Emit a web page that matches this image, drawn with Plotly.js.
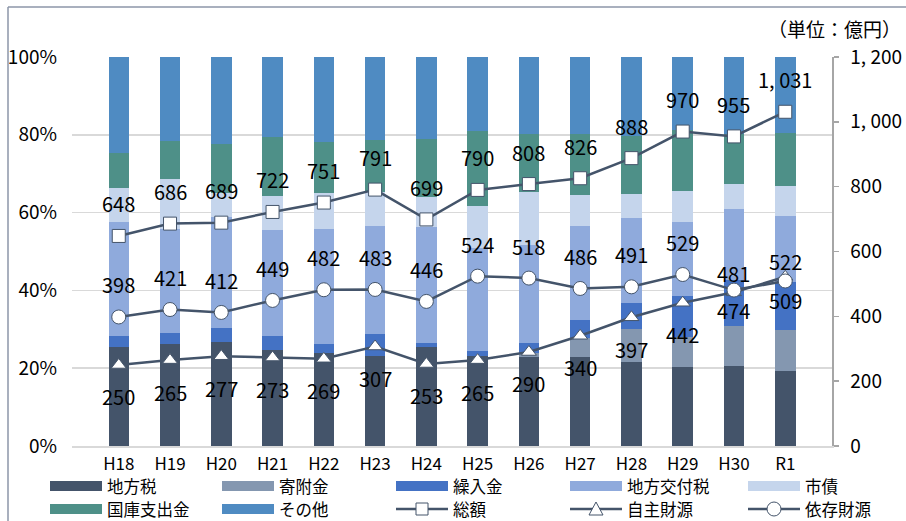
<!DOCTYPE html>
<html>
<head>
<meta charset="utf-8">
<script src="https://cdn.plot.ly/plotly-3.0.1.min.js"></script>
<style>
  html, body { margin: 0; padding: 0; background: #ffffff; }
  #chart { width: 906px; height: 521px; }
</style>
</head>
<body>
<div id="chart"></div>
<script>
// ---- data ----
const categories = ['H18','H19','H20','H21','H22','H23','H24','H25','H26','H27','H28','H29','H30','R1'];

// shares of revenue (%) per year
const chihouzei   = [25.5, 26.1, 26.8, 24.7, 23.8, 23.1, 25.4, 23.1, 23.0, 22.8, 21.7, 20.4, 20.6, 19.4];
const kifukin     = [0, 0, 0, 0, 0, 0, 0, 0, 1.0, 5.0, 8.4, 7.7, 10.2, 10.4];
const kuriirekin  = [2.9, 3.0, 3.6, 3.6, 2.5, 5.6, 1.0, 1.2, 2.6, 4.6, 6.7, 10.5, 11.9, 12.4];
const koufuzei    = [29.1, 26.7, 28.5, 27.2, 29.4, 27.9, 29.8, 26.5, 25.1, 24.2, 21.9, 19.1, 18.2, 17.0];
const shisai      = [8.7, 12.8, 6.1, 8.8, 9.3, 8.8, 7.9, 11.0, 13.7, 7.9, 6.0, 7.9, 6.4, 7.6];
const kokko       = [9.0, 9.9, 12.6, 15.1, 13.1, 13.3, 14.7, 19.2, 14.7, 15.6, 15.1, 15.6, 12.8, 13.6];
const sonota      = [24.8, 21.5, 22.4, 20.6, 21.9, 21.3, 21.2, 19.0, 19.9, 19.9, 20.2, 18.8, 19.9, 19.6];

// amounts (億円)
const sougaku     = [648, 686, 689, 722, 751, 791, 699, 790, 808, 826, 888, 970, 955, 1031];
const jishu       = [250, 265, 277, 273, 269, 307, 253, 265, 290, 340, 397, 442, 474, 522];
const izon        = [398, 421, 412, 449, 482, 483, 446, 524, 518, 486, 491, 529, 481, 509];

const rightTickVals = [0, 200, 400, 600, 800, 1000, 1200];
const rightTickText = ['0', '200', '400', '600', '800', '1, 000', '1, 200'];
const leftTickVals  = [0, 20, 40, 60, 80, 100];
const leftTickText  = ['0%', '20%', '40%', '60%', '80%', '100%'];

// ---- style ----
const FONT = '"Noto Sans CJK JP", sans-serif';
const LINE = '#44546A';
const barSeries = [
  {name: '地方税',     y: chihouzei,  color: '#44546A'},
  {name: '寄附金',     y: kifukin,    color: '#8497B0'},
  {name: '繰入金',     y: kuriirekin, color: '#4472C4'},
  {name: '地方交付税', y: koufuzei,   color: '#8FAADC'},
  {name: '市債',       y: shisai,     color: '#C5D5EC'},
  {name: '国庫支出金', y: kokko,      color: '#4E9088'},
  {name: 'その他',     y: sonota,     color: '#4F8BC2'}
];
// label offsets (px) for each line series
const shiftSougaku = sougaku.map(() => 32);
const shiftJishu   = jishu.map(() => -32);
const shiftIzon    = izon.map(() => 32);
shiftJishu[12] = -18; shiftIzon[12] = 17;
shiftJishu[13] = 15;  shiftIzon[13] = -19;

const traces = [];
barSeries.forEach(s => {
  traces.push({
    type: 'bar', name: s.name, x: categories, y: s.y,
    marker: {color: s.color, line: {width: 0}},
    yaxis: 'y', hoverinfo: 'skip', showlegend: false
  });
});
function lineTrace(name, y, symbol, size) {
  return {
    type: 'scatter', mode: 'lines+markers', name: name, x: categories, y: y,
    yaxis: 'y2', line: {color: LINE, width: 2.5},
    marker: {symbol: symbol, size: size, color: '#ffffff', line: {color: LINE, width: 1}},
    showlegend: false, hoverinfo: 'skip'
  };
}
traces.push(lineTrace('総額', sougaku, 'square', 13));
traces.push(lineTrace('自主財源', jishu, 'triangle-up', 13));
traces.push(lineTrace('依存財源', izon, 'circle', 14));

function fmt(v) { return v.toLocaleString('en-US').replace(',', ', '); }

const annotations = [];
function addLabels(vals, shifts) {
  vals.forEach((v, i) => {
    annotations.push({
      x: categories[i], y: v, xref: 'x', yref: 'y2', text: fmt(v),
      showarrow: false, yshift: shifts[i], borderpad: 0,
      font: {family: FONT, size: 20, color: '#000'}
    });
  });
}
addLabels(sougaku, shiftSougaku);
addLabels(jishu, shiftJishu);
addLabels(izon, shiftIzon);

// pixel -> paper helpers (plot area: x 72..832, y 57..446)
const L = 72, R = 832, T = 57, B = 446;
const px = x => (x - L) / (R - L);
const py = y => (B - y) / (B - T);

annotations.push({
  x: px(902), y: py(29), xref: 'paper', yref: 'paper', xanchor: 'right', yanchor: 'middle',
  text: '（単位：億円）', showarrow: false, borderpad: 0,
  font: {family: FONT, size: 19, color: '#000'}
});

// custom legend
const shapes = [];
const cols = [50, 222, 396, 570, 748];
const rows = [486, 509];
const legendItems = [
  {name: '地方税', kind: 'bar', color: '#44546A'},
  {name: '寄附金', kind: 'bar', color: '#8497B0'},
  {name: '繰入金', kind: 'bar', color: '#4472C4'},
  {name: '地方交付税', kind: 'bar', color: '#8FAADC'},
  {name: '市債', kind: 'bar', color: '#C5D5EC'},
  {name: '国庫支出金', kind: 'bar', color: '#4E9088'},
  {name: 'その他', kind: 'bar', color: '#4F8BC2'},
  {name: '総額', kind: 'square'},
  {name: '自主財源', kind: 'triangle'},
  {name: '依存財源', kind: 'circle'}
];
legendItems.forEach((it, k) => {
  const x0 = cols[k % 5], yc = rows[Math.floor(k / 5)];
  const w = 52;
  if (it.kind === 'bar') {
    shapes.push({type: 'rect', xref: 'paper', yref: 'paper', x0: px(x0), x1: px(x0 + w),
      y0: py(yc - 5), y1: py(yc + 5), fillcolor: it.color, line: {width: 0}});
  } else {
    shapes.push({type: 'line', xref: 'paper', yref: 'paper', x0: px(x0), x1: px(x0 + w),
      y0: py(yc), y1: py(yc), line: {color: LINE, width: 2.5}});
    const cx = x0 + w / 2;
    if (it.kind === 'square') {
      shapes.push({type: 'rect', xref: 'paper', yref: 'paper', x0: px(cx - 6), x1: px(cx + 6),
        y0: py(yc - 6), y1: py(yc + 6), fillcolor: '#fff', line: {color: LINE, width: 1}});
    } else if (it.kind === 'circle') {
      shapes.push({type: 'circle', xref: 'paper', yref: 'paper', x0: px(cx - 7), x1: px(cx + 7),
        y0: py(yc - 7), y1: py(yc + 7), fillcolor: '#fff', line: {color: LINE, width: 1}});
    } else {
      const p = 'M' + px(cx) + ',' + py(yc - 7) + ' L' + px(cx + 7) + ',' + py(yc + 6) +
                ' L' + px(cx - 7) + ',' + py(yc + 6) + ' Z';
      shapes.push({type: 'path', xref: 'paper', yref: 'paper', path: p, fillcolor: '#fff',
        line: {color: LINE, width: 1}});
    }
  }
  annotations.push({x: px(x0 + w + 4), y: py(yc), xref: 'paper', yref: 'paper',
    xanchor: 'left', yanchor: 'middle', text: it.name, showarrow: false, borderpad: 0,
    font: {family: FONT, size: 16.5, color: '#000'}});
});

// outer frame (top and left edges)
shapes.push({type: 'line', xref: 'paper', yref: 'paper', x0: px(8), x1: px(906), y0: py(7), y1: py(7),
  line: {color: '#8C96A8', width: 1.5}});
shapes.push({type: 'line', xref: 'paper', yref: 'paper', x0: px(8), x1: px(8), y0: py(7), y1: py(521),
  line: {color: '#8C96A8', width: 1.5}});

const layout = {
  width: 906, height: 521,
  margin: {l: L, r: 906 - R, t: T, b: 521 - B},
  paper_bgcolor: '#ffffff', plot_bgcolor: '#ffffff',
  barmode: 'stack', barnorm: 'percent', bargap: 0.6,
  showlegend: false,
  font: {family: FONT, size: 19, color: '#000'},
  xaxis: {
    type: 'category', showgrid: false, showline: true, linecolor: '#D9D9D9', linewidth: 1.5,
    ticks: '', tickfont: {family: FONT, size: 17}, ticklabelstandoff: 2, fixedrange: true
  },
  yaxis: {
    range: [0, 100], tickvals: leftTickVals, ticktext: leftTickText,
    showgrid: true, gridcolor: '#D9D9D9', gridwidth: 1.5, zeroline: false, showline: false,
    ticks: '', tickfont: {family: FONT, size: 19}, ticklabelstandoff: 14, fixedrange: true
  },
  yaxis2: {
    overlaying: 'y', side: 'right', range: [0, 1200],
    tickvals: rightTickVals, ticktext: rightTickText,
    showgrid: false, zeroline: false, showline: true, linecolor: '#A6A6A6', linewidth: 1.5,
    ticks: 'outside', ticklen: 5, tickcolor: '#A6A6A6', tickwidth: 1.5,
    tickfont: {family: FONT, size: 19}, ticklabelstandoff: 8, fixedrange: true
  },
  annotations: annotations,
  shapes: shapes
};

Plotly.newPlot('chart', traces, layout, {displayModeBar: false, staticPlot: true});
</script>
</body>
</html>
